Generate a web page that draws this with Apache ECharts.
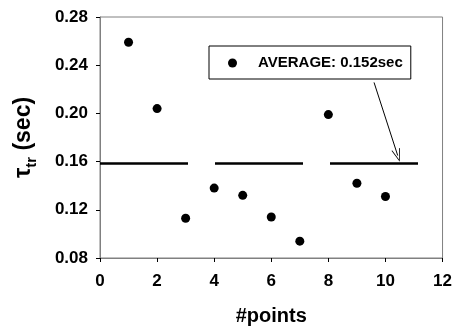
<!DOCTYPE html>
<html>
<head>
<meta charset="utf-8">
<script src="https://cdn.jsdelivr.net/npm/echarts@6/dist/echarts.min.js"></script>
<style>html,body{margin:0;padding:0;background:#fff}#c{width:455px;height:331px}</style>
</head>
<body>
<div id="c"></div>
<script>
const pointsX = [1, 2, 3, 4, 5, 6, 7, 8, 9, 10];
const tauValues = [0.259, 0.204, 0.113, 0.138, 0.132, 0.114, 0.094, 0.199, 0.142, 0.131];
const avgLineX = [0, 12.2];
const avgLineY = 0.1585;
const arrowFrom = [9.6, 0.2257];
const arrowTo = [10.43, 0.165];
const legendLabel = 'AVERAGE: 0.152sec';
const xTicks = { min: 0, max: 12, interval: 2 };
const yTicks = { min: 0.08, max: 0.28, interval: 0.04 };

const FONT = 'Arial, "Liberation Sans", sans-serif';
const chart = echarts.init(document.getElementById('c'), null, { renderer: 'canvas' });
chart.setOption({
  animation: false,
  backgroundColor: '#fff',
  grid: { left: 100, right: 9, top: 17, bottom: 72, show: true, borderColor: '#808080', borderWidth: 1, containLabel: false },
  legend: {
    data: [legendLabel],
    left: 209, top: 46,
    padding: [9, 8, 8, 19],
    itemWidth: 9, itemHeight: 9, icon: 'circle',
    borderColor: '#000', borderWidth: 1, backgroundColor: '#fff',
    selectedMode: false,
    textStyle: { fontFamily: FONT, fontWeight: 'bold', fontSize: 15, color: '#000', lineHeight: 16, padding: [0, 0, 0, 16] }
  },
  xAxis: {
    type: 'value', min: xTicks.min, max: xTicks.max, interval: xTicks.interval,
    name: '#points', nameLocation: 'middle', nameGap: 48,
    nameTextStyle: { fontFamily: FONT, fontWeight: 'bold', fontSize: 20, color: '#000' },
    axisLine: { show: true, onZero: false, lineStyle: { color: '#808080', width: 1 } },
    axisTick: { show: true, inside: false, length: 4, lineStyle: { color: '#000' } },
    axisLabel: { margin: 15, fontFamily: FONT, fontWeight: 'bold', fontSize: 17, color: '#000' },
    splitLine: { show: false }
  },
  yAxis: {
    type: 'value', min: yTicks.min, max: yTicks.max, interval: yTicks.interval,
    name: '{a|τ}{b|tr}{a| (sec)}', nameLocation: 'middle', nameRotate: 90, nameGap: 61,
    nameTextStyle: {
      rich: {
        a: { fontFamily: FONT, fontWeight: 'bold', fontSize: 23, color: '#000', lineHeight: 30, verticalAlign: 'middle' },
        b: { fontFamily: FONT, fontWeight: 'bold', fontSize: 15, color: '#000', lineHeight: 14, verticalAlign: 'bottom' }
      }
    },
    axisLine: { show: true, onZero: false, lineStyle: { color: '#808080', width: 1 } },
    axisTick: { show: true, inside: false, length: 4, lineStyle: { color: '#000' } },
    axisLabel: { margin: 12, fontFamily: FONT, fontWeight: 'bold', fontSize: 17, color: '#000',
      formatter: v => v.toFixed(2) },
    splitLine: { show: false }
  },
  series: [
    {
      type: 'line', name: 'avg', clip: false, silent: true,
      data: avgLineX.map(x => [x, avgLineY]),
      symbol: 'none',
      lineStyle: { color: '#000', width: 2.5, type: [88, 27], cap: 'butt' },
      markLine: {
        silent: true, animation: false,
        symbol: ['none', 'path://M5,0 L10,14 L9,14 L5,2.5 L1,14 L0,14 Z'],
        symbolSize: [9, 13],
        label: { show: false },
        lineStyle: { color: '#000', width: 1, type: 'solid' },
        emphasis: { disabled: true },
        data: [[{ coord: arrowFrom }, { coord: arrowTo }]]
      }
    },
    {
      type: 'scatter', name: legendLabel,
      data: pointsX.map((x, i) => [x, tauValues[i]]),
      symbol: 'circle', symbolSize: 9,
      itemStyle: { color: '#000', opacity: 1 },
      emphasis: { disabled: true }
    }
  ]
});
</script>
</body>
</html>
